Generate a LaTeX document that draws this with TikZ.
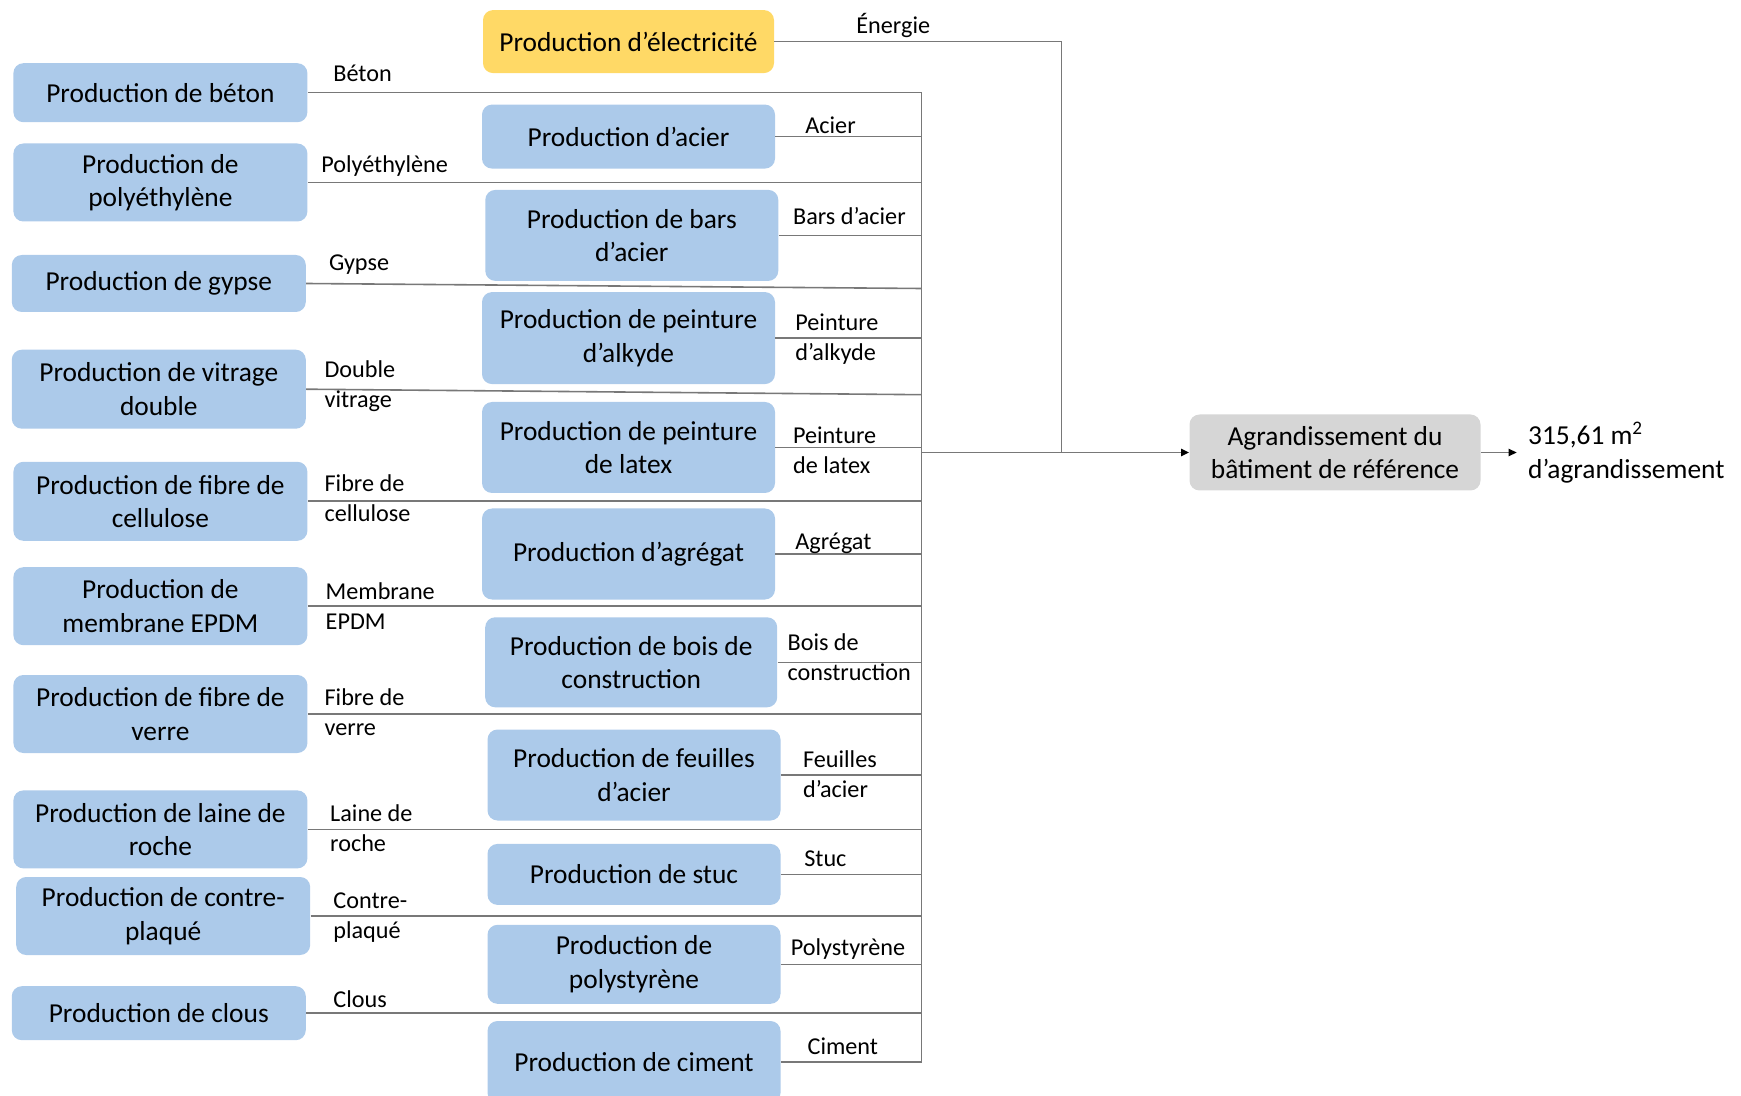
\documentclass[tikz,border=0pt]{standalone}
\usepackage{fontspec}
\setmainfont{Carlito}
\usepackage{xcolor}
\definecolor{lcablue}{RGB}{172,202,234}
\definecolor{lcayellow}{RGB}{255,217,102}
\definecolor{lcagray}{RGB}{214,214,214}
\definecolor{lcaline}{RGB}{120,120,120}
\usepackage{tikz}
\usetikzlibrary{arrows.meta, positioning, calc}

\begin{document}
\begin{tikzpicture}[
    x=0.5pt, y=-0.5pt,
    every node/.style={font=\fontsize{13.7}{16.7}\selectfont},
    blk/.style={fill=lcablue, rounded corners=5pt, align=center,
                minimum width=147pt, inner sep=2pt},
    elecblk/.style={blk, fill=lcayellow},
    outblk/.style={blk, fill=lcagray},
    lbl/.style={font=\fontsize{12.1}{15}\selectfont, align=left,
                anchor=west, inner sep=0pt},
    flow/.style={draw=lcaline, line width=0.8pt},
    arr/.style={-{Triangle[length=4pt, width=3.6pt, color=black]}, line width=0.8pt, draw=lcaline},
]
\useasboundingbox (0,0) rectangle (1741,1096);

% ===== LEFT COLUMN =====
\node[blk, minimum height=29.5pt] (beton)   at (160.4, 92.7)  {Production de béton};
\node[blk, minimum height=39pt]   (polyeth) at (160.4, 182.5) {Production de\\polyéthylène};
\node[blk, minimum height=28.5pt] (gypse)   at (158.8, 283.5) {Production de gypse};
\node[blk, minimum height=39.5pt] (vitrage) at (158.8, 389.2) {Production de vitrage\\double};
\node[blk, minimum height=39.5pt] (cellul)  at (160.4, 501.3) {Production de fibre de\\cellulose};
\node[blk, minimum height=39pt]   (epdm)    at (160.4, 606.2) {Production de\\membrane EPDM};
\node[blk, minimum height=39pt]   (verre)   at (160.4, 714)   {Production de fibre de\\verre};
\node[blk, minimum height=39pt]   (roche)   at (160.4, 829.4) {Production de laine de\\roche};
\node[blk, minimum height=39pt]   (contre)  at (163.2, 916)   {Production de contre-\\plaqué};
\node[blk, minimum height=27pt]   (clous)   at (158.8, 1013.2) {Production de clous};

% ===== MIDDLE COLUMN =====
\node[elecblk, minimum width=145.5pt, minimum height=31.5pt] (elec) at (628.5, 41.6) {Production d’électricité};
\node[blk, minimum width=146.5pt, minimum height=32pt]   (acier)    at (628.5, 136.6) {Production d’acier};
\node[blk, minimum width=146.5pt, minimum height=45.5pt] (bars)     at (631.8, 235.4) {Production de bars\\d’acier};
\node[blk, minimum width=146.5pt, minimum height=46pt]   (alkyde)   at (628.5, 338.1) {Production de peinture\\d’alkyde};
\node[blk, minimum width=146.5pt, minimum height=45.5pt] (latex)    at (628.5, 447.5) {Production de peinture\\de latex};
\node[blk, minimum width=146.5pt, minimum height=45.5pt] (agregat)  at (628.5, 554)   {Production d’agrégat};
\node[blk, minimum width=146pt, minimum height=45pt]     (bois)     at (631.2, 662.3) {Production de bois de\\construction};
\node[blk, minimum width=146.5pt, minimum height=45.5pt] (feuilles) at (634, 775)     {Production de feuilles\\d’acier};
\node[blk, minimum width=146.5pt, minimum height=30.5pt] (stuc)     at (634, 874.4)   {Production de stuc};
\node[blk, minimum width=146.5pt, minimum height=39.5pt] (polyst)   at (634, 964.3)   {Production de\\polystyrène};
\node[blk, minimum width=146.5pt, minimum height=41pt]   (ciment)   at (634, 1062)    {Production de ciment};

% ===== OUTPUT =====
\node[outblk, minimum width=145.5pt, minimum height=38pt] (agrand) at (1335, 452.5)
      {Agrandissement du\\bâtiment de référence};
\node[anchor=west, align=left, inner sep=5.5pt] (surface) at (1516.7, 452.5)
      {315,61 m\textsuperscript{2}\\d’agrandissement};

% collector line
\coordinate (bus)  at (921.5, 92.2);
\coordinate (join) at (1061.5, 452.5);

% left inputs
\draw[flow] (beton.east)   -- (beton.east -| bus);
\draw[flow] (polyeth.east) -- (polyeth.east -| bus);
\draw[flow] (gypse.east)   -- ($(gypse.east -| bus)+(0,5)$);
\draw[flow] (vitrage.east) -- ($(vitrage.east -| bus)+(0,5.5)$);
\draw[flow] (cellul.east)  -- (cellul.east -| bus);
\draw[flow] (epdm.east)    -- (epdm.east -| bus);
\draw[flow] (verre.east)   -- (verre.east -| bus);
\draw[flow] (roche.east)   -- (roche.east -| bus);
\draw[flow] (contre.east)  -- (contre.east -| bus);
\draw[flow] (clous.east)   -- (clous.east -| bus);

% middle inputs
\draw[flow] (acier.east)    -- (acier.east -| bus);
\draw[flow] (bars.east)     -- (bars.east -| bus);
\draw[flow] (alkyde.east)   -- (alkyde.east -| bus);
\draw[flow] (latex.east)    -- (latex.east -| bus);
\draw[flow] (agregat.east)  -- (agregat.east -| bus);
\draw[flow] (bois.east)     -- (bois.east -| bus);
\draw[flow] (feuilles.east) -- (feuilles.east -| bus);
\draw[flow] (stuc.east)     -- (stuc.east -| bus);
\draw[flow] (polyst.east)   -- (polyst.east -| bus);
\draw[flow] (ciment.east)   -- (ciment.east -| bus);

% vertical collector, energy and output
\draw[flow] (bus) -- (ciment.east -| bus);
\draw[flow] (elec.east) -| (join);
\draw[arr] (bus |- agrand.west) -- (agrand.west);
\draw[arr] (agrand.east) -- (surface.west);

% labels
\node[lbl] (lenergie) at (856, 25)     {Énergie};
\node[lbl] (lbeton)   at (333, 73.5)   {Béton};
\node[lbl] (lpolyeth) at (320.9, 166.5) {Polyéthylène};
\node[lbl] (lgypse)   at (328.7, 265)  {Gypse};
\node[lbl] (lvitrage) at (324.2, 386.5) {Double\\vitrage};
\node[lbl] (lcellul)  at (324.2, 498)  {Fibre de\\cellulose};
\node[lbl] (lepdm)    at (325.3, 605.7) {Membrane\\EPDM};
\node[lbl] (lverre)   at (324.2, 712.3) {Fibre de\\verre};
\node[lbl] (lroche)   at (329.8, 827.7) {Laine de\\roche};
\node[lbl] (lcontre)  at (333, 917.5)  {Contre-\\plaqué};
\node[lbl] (lclous)   at (333, 998.7)  {Clous};

\node[lbl] (lacier)    at (805, 125)     {Acier};
\node[lbl] (lbars)     at (792.7, 215.8) {Bars d’acier};
\node[lbl] (lalkyde)   at (795, 339.5)   {Peinture\\d’alkyde};
\node[lbl] (llatex)    at (792.7, 450.2) {Peinture\\de latex};
\node[lbl] (lagregat)  at (795, 543.5)   {Agrégat};
\node[lbl] (lbois)     at (787.2, 656.8) {Bois de\\construction};
\node[lbl] (lfeuilles) at (802.7, 774.4) {Feuilles\\d’acier};
\node[lbl] (lstuc)     at (803.9, 858.8) {Stuc};
\node[lbl] (lpolyst)   at (790.5, 949.5) {Polystyrène};
\node[lbl] (lciment)   at (807.2, 1046.5) {Ciment};

\end{tikzpicture}
\end{document}
